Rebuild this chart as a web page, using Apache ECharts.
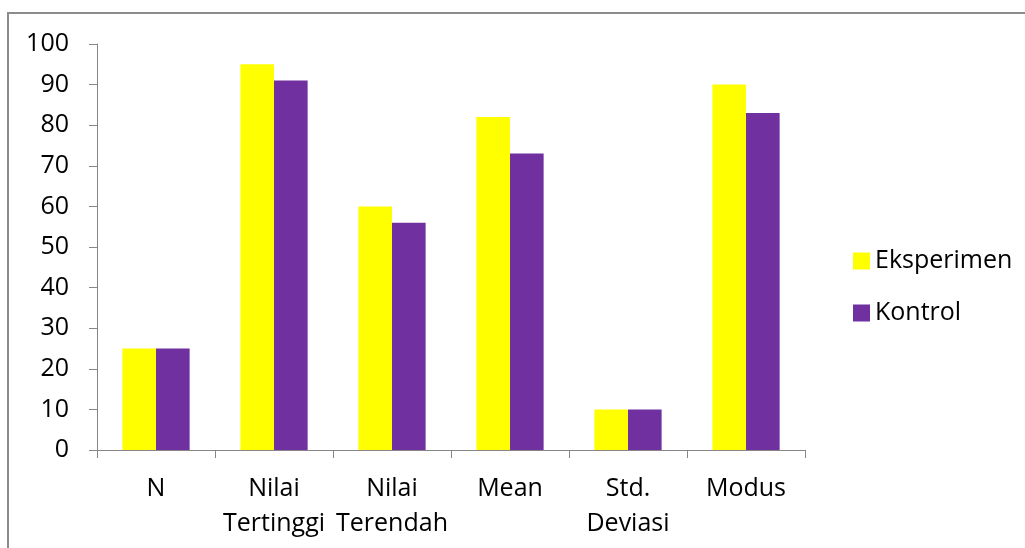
<!DOCTYPE html>
<html>
<head>
<meta charset="utf-8">
<script src="https://cdn.jsdelivr.net/npm/echarts@6/dist/echarts.min.js"></script>
<style>
  html, body { margin: 0; padding: 0; background: #fff; }
  #chart { width: 1025px; height: 548px; }
</style>
</head>
<body>
<div id="chart"></div>
<script>
  // kategori statistik
  const categories = ['N', 'Nilai\nTertinggi', 'Nilai\nTerendah', 'Mean', 'Std.\nDeviasi', 'Modus']
  // nilai kelas eksperimen dan kontrol
  const eksperimen = [25, 95, 60, 82, 10, 90]
  const kontrol = [25, 91, 56, 73, 10, 83]
  const seriesNames = ['Eksperimen', 'Kontrol']

  const chart = echarts.init(document.getElementById('chart'))
  const font = '"Open Sans", sans-serif'
  const axisColor = '#868686'

  const option = {
    animation: false,
    backgroundColor: '#fff',
    textStyle: { fontFamily: font },
    // bingkai abu-abu di atas dan kiri
    graphic: [{
      type: 'polyline',
      shape: { points: [[8, 548], [8, 13], [1025, 13]] },
      style: { stroke: '#8c8c8c', lineWidth: 2, fill: null }
    }],
    grid: { left: 97, right: 220, top: 44, bottom: 98 },
    legend: {
      orient: 'vertical',
      left: 848,
      top: 243,
      itemWidth: 17,
      itemHeight: 17,
      itemGap: 26,
      icon: 'rect',
      textStyle: { fontFamily: font, fontSize: 25, color: '#000', lineHeight: 26 },
      data: seriesNames
    },
    xAxis: {
      type: 'category',
      data: categories,
      axisLine: { lineStyle: { color: axisColor, width: 1 } },
      axisTick: { show: true, length: 8, alignWithLabel: false, lineStyle: { color: axisColor } },
      axisLabel: { interval: 0, margin: 21, fontFamily: font, fontSize: 25, lineHeight: 35, color: '#000' },
      splitLine: { show: false }
    },
    yAxis: {
      type: 'value',
      min: 0,
      max: 100,
      interval: 10,
      axisLine: { show: true, lineStyle: { color: axisColor, width: 1 } },
      axisTick: { show: true, length: 8, lineStyle: { color: axisColor } },
      axisLabel: { margin: 28, fontFamily: font, fontSize: 25, color: '#000' },
      splitLine: { show: false }
    },
    series: [
      {
        name: seriesNames[0],
        type: 'bar',
        data: eksperimen,
        barGap: '0%',
        barCategoryGap: '43%',
        itemStyle: { color: '#FFFF00' }
      },
      {
        name: seriesNames[1],
        type: 'bar',
        data: kontrol,
        barGap: '0%',
        barCategoryGap: '43%',
        itemStyle: { color: '#7030A0' }
      }
    ]
  }
  chart.setOption(option)
</script>
</body>
</html>
